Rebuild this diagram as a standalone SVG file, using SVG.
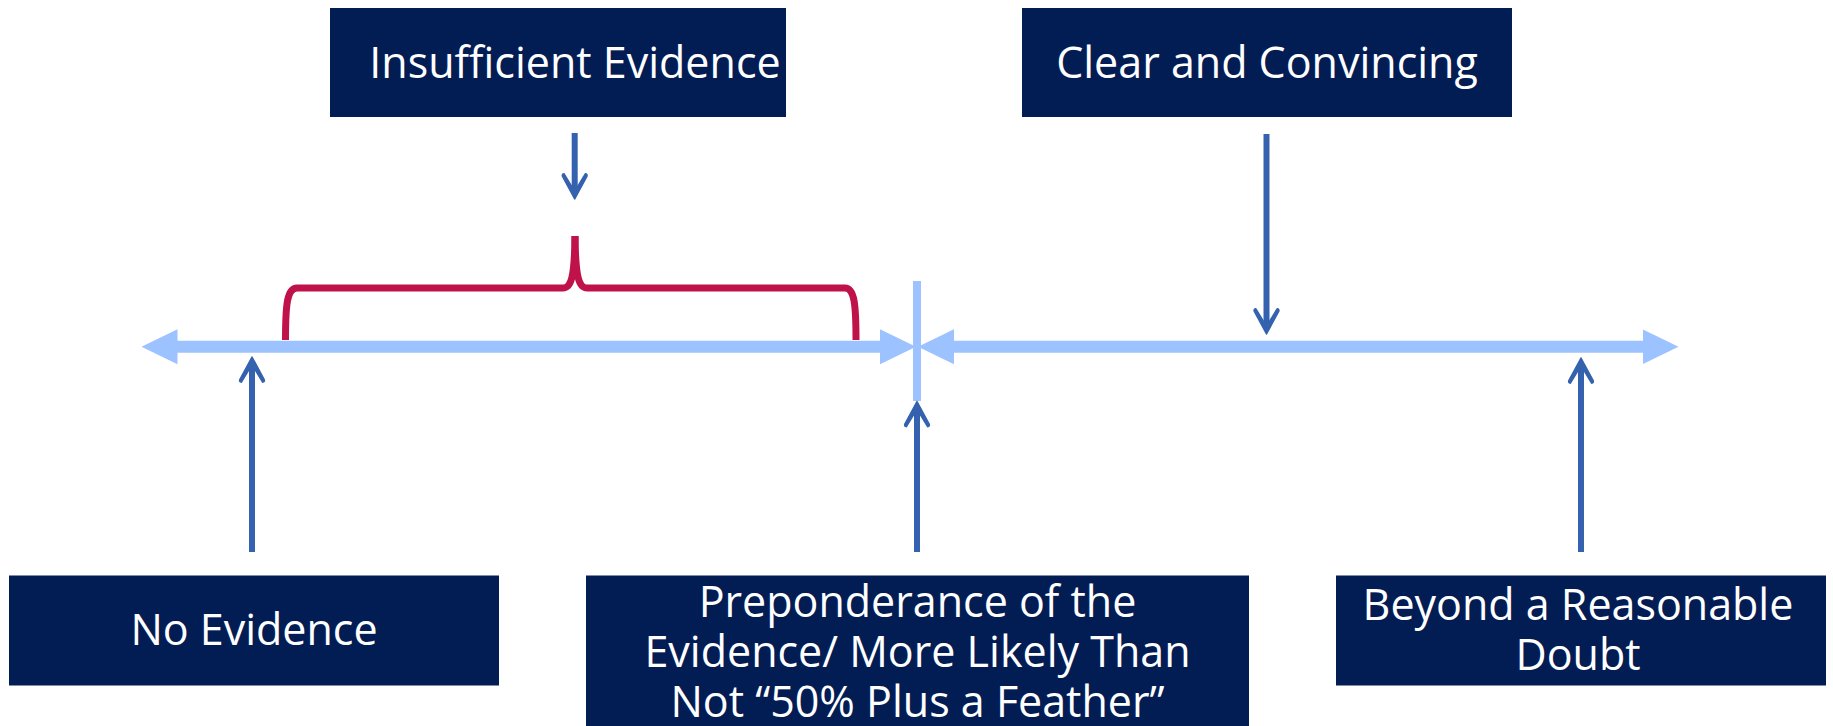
<svg xmlns="http://www.w3.org/2000/svg" width="1833" height="726" viewBox="0 0 1833 726">
  <style>
    .box { fill: #021C54; }
    .lbl { fill: #FFFFFF; font-family: "Open Sans", "Noto Sans", "Liberation Sans", sans-serif; font-size: 43px; text-anchor: middle; }
    .axis { stroke: #9CC2FF; stroke-width: 12; fill: none; }
    .sep { stroke: #9CC2FF; stroke-width: 8; fill: none; }
    .ptr { stroke: #3462AF; stroke-width: 6; fill: none; }
    .brace { stroke: #C0124A; stroke-width: 7; fill: none; stroke-linecap: butt; stroke-linejoin: round; }
  </style>
  <defs>
    <marker id="axisHead" markerUnits="userSpaceOnUse" viewBox="0 -18 36 36" refX="1" refY="0" markerWidth="36" markerHeight="36" orient="auto-start-reverse">
      <polygon points="0,-17.5 36,0 0,17.5" fill="#9CC2FF"/>
    </marker>
    <marker id="ptrHead" markerUnits="userSpaceOnUse" viewBox="-2 -16 32 32" refX="16" refY="0" markerWidth="32" markerHeight="32" orient="auto">
      <path d="M26 0 L3.5 -12.2 Q1 -13 0.8 -10.6 L13.5 -3 L13.5 3 L0.8 10.6 Q1 13 3.5 12.2 Z" fill="#3462AF" stroke="#3462AF" stroke-width="1.5" stroke-linejoin="round"/>
    </marker>
  </defs>

  <g id="connectors">
    <line class="sep" x1="917" y1="281" x2="917" y2="401"/>
    <line class="axis" x1="176.5" y1="346.7" x2="881" y2="346.7" marker-start="url(#axisHead)" marker-end="url(#axisHead)"/>
    <line class="axis" x1="953" y1="346.7" x2="1643.5" y2="346.7" marker-start="url(#axisHead)" marker-end="url(#axisHead)"/>
    <path class="brace" d="M285.5 340 C285.5 305 287 288 297 288 L563 288 C571 288 574.5 278 575 236"/>
    <path class="brace" d="M856 340 C856 305 854.5 288 845 288 L587 288 C579 288 575.5 278 575 236"/>
    <line class="ptr" x1="574.7" y1="133" x2="574.7" y2="189" marker-end="url(#ptrHead)"/>
    <line class="ptr" x1="1266.5" y1="134" x2="1266.5" y2="324" marker-end="url(#ptrHead)"/>
    <line class="ptr" x1="252" y1="552" x2="252" y2="367" marker-end="url(#ptrHead)"/>
    <line class="ptr" x1="917" y1="552" x2="917" y2="411.5" marker-end="url(#ptrHead)"/>
    <line class="ptr" x1="1581" y1="552" x2="1581" y2="368" marker-end="url(#ptrHead)"/>
  </g>

  <g id="insufficient-evidence">
    <rect class="box" x="330" y="8" width="456" height="109"/>
    <text class="lbl" x="575" y="78">Insufficient Evidence</text>
  </g>
  <g id="clear-and-convincing">
    <rect class="box" x="1022" y="8" width="490" height="109"/>
    <text class="lbl" x="1267" y="78">Clear and Convincing</text>
  </g>
  <g id="no-evidence">
    <rect class="box" x="9" y="575.5" width="490" height="110"/>
    <text class="lbl" x="254" y="645">No Evidence</text>
  </g>
  <g id="preponderance">
    <rect class="box" x="586" y="575.5" width="663" height="160"/>
    <text class="lbl" x="917.5" y="617">Preponderance of the</text>
    <text class="lbl" x="917.5" y="667">Evidence/ More Likely Than</text>
    <text class="lbl" x="917.5" y="717">Not “50% Plus a Feather”</text>
  </g>
  <g id="beyond-reasonable-doubt">
    <rect class="box" x="1336" y="575.5" width="490" height="110"/>
    <text class="lbl" x="1578" y="620">Beyond a Reasonable</text>
    <text class="lbl" x="1578" y="670">Doubt</text>
  </g>
</svg>
